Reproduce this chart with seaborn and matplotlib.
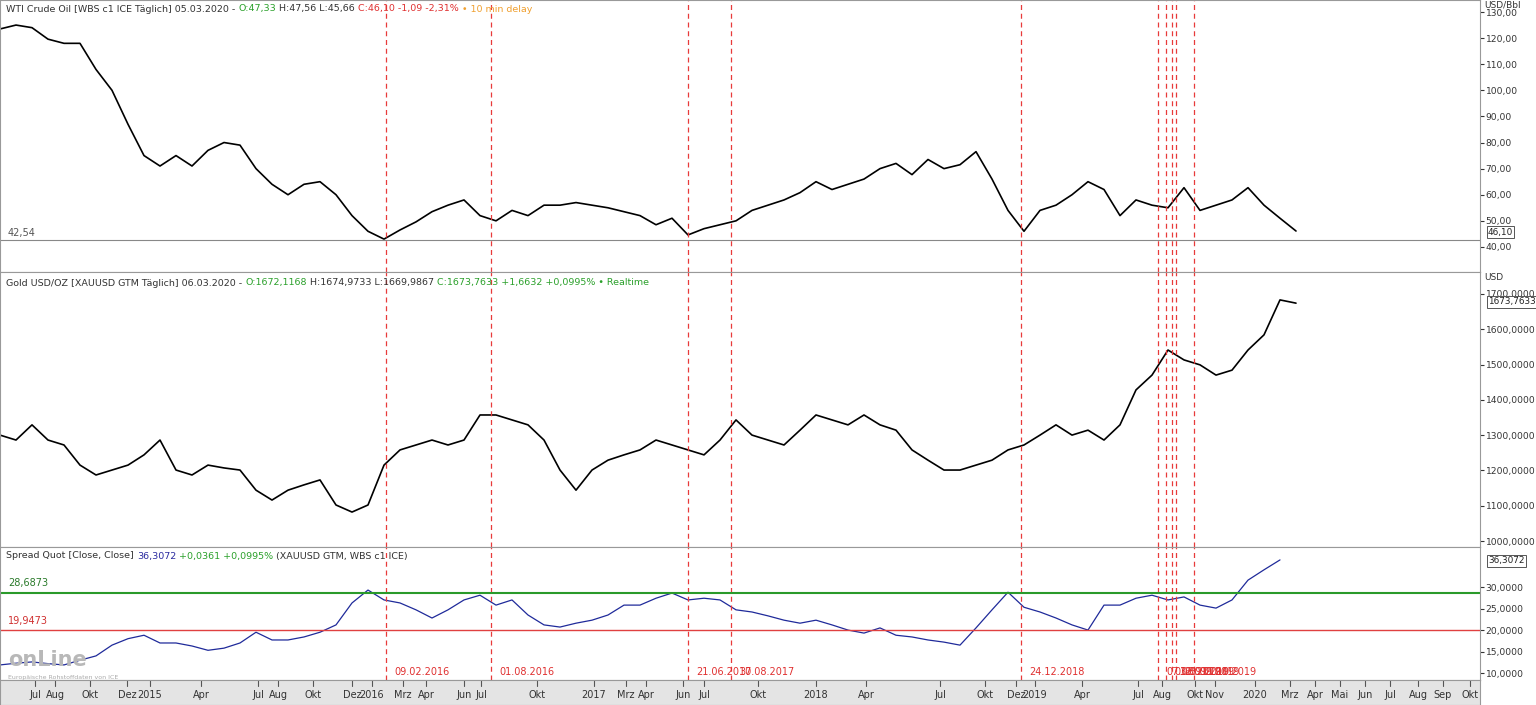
import matplotlib
matplotlib.use("Agg")
import matplotlib.pyplot as plt
import seaborn as sns
import numpy as np
import pandas as pd

sns.set_style("white")
plt.rcParams['font.family'] = ['DejaVu Sans']

oil = [123.5,125,124,119.6,118,118,108,100,87,75,71,75,71,77,80,79,70,64,60,64,65,60,52,46,43,46.5,
       49.6,53.5,56,58,52,50,54,52,56,56,57,56,55,53.5,52,48.5,51,44.6,47,48.5,50,54,56,58,60.8,65,62,
       64,66,70,72,67.7,73.5,70,71.5,76.5,66,54,46,54,56,60,65,62,52,58,56,55,62.7,54,56,58,62.7,56,51,46.1]
gold = [1300,1286,1329,1286,1272,1215,1187,1201,1215,1244,1286,1201,1187,1215,1207,1201,1144,1116,1144,
        1159,1173,1102,1082,1102,1215,1258,1272,1286,1272,1286,1357,1357,1343,1329,1286,1201,1144,1201,
        1229,1244,1258,1286,1272,1258,1244,1286,1343,1300,1286,1272,1314,1357,1343,1329,1357,1329,1314,
        1258,1229,1201,1201,1215,1229,1258,1272,1300,1329,1300,1314,1286,1329,1428,1470,1541,1513,1499,
        1470,1484,1541,1584,1683,1673.8]
spread = [11.9,12.3,12.6,12.2,11.9,13,14,16.5,18,18.8,17,17,16.3,15.3,15.8,17,19.5,17.7,17.7,18.4,19.5,
          21.2,26.3,29.3,27,26.3,24.7,22.8,24.7,27,28.1,25.8,27,23.5,21.2,20.7,21.6,22.3,23.5,25.8,25.8,
          27.4,28.6,27,27.4,27,24.7,24.2,23.3,22.3,21.6,22.3,21.2,20,19.3,20.5,18.8,18.4,17.7,17.2,16.5,
          20.5,24.7,28.8,25.3,24.2,22.8,21.2,20,25.8,25.8,27.4,28.1,27,27.7,25.8,25.1,27,31.6,34,36.3]
t_oil = list(range(len(oil)))
t_gold = list(range(len(gold)))
t_spread = list(range(len(spread)))

xtick_pos = [35,55,90,127,150,201,258,278,313,352,372,403,426,464,481,537,594,626,646,683,704,758,816,
             866,940,985,1016,1035,1082,1138,1162,1195,1215,1255,1290,1315,1340,1365,1390,1418,1443,1470]
xtick_lab = ["Jul","Aug","Okt","Dez","2015","Apr","Jul","Aug","Okt","Dez","2016","Mrz","Apr","Jun","Jul",
             "Okt","2017","Mrz","Apr","Jun","Jul","Okt","2018","Apr","Jul","Okt","Dez","2019","Apr","Jul",
             "Aug","Okt","Nov","2020","Mrz","Apr","Mai","Jun","Jul","Aug","Sep","Okt"]
vline_pos = [386,491,688,731,1021,1158,1166,1172,1176,1194]
vline_lab = ["09.02.2016","01.08.2016","21.06.2017","30.08.2017","24.12.2018",
             "07.08.2019","03.09.2019","16.09.2019","25.09.2019","11.10.2019"]
STEP = 16.0
XMAX = 1480/STEP

W, H = 1536, 705
fig = plt.figure(figsize=(W/100, H/100), dpi=100)
fig.patch.set_facecolor("white")

def mk(top, bot):
    return fig.add_axes([0, 1-bot/H, 1480/W, (bot-top)/H])

ax1 = mk(0, 272); ax2 = mk(272, 547); ax3 = mk(547, 680)
axx = fig.add_axes([0, 0, 1480/W, 25/H]); axx.set_facecolor("#e4e4e4")

sns.lineplot(x=t_oil, y=oil, ax=ax1, color="black", lw=1.2)
sns.lineplot(x=t_gold, y=gold, ax=ax2, color="black", lw=1.2)
sns.lineplot(x=t_spread, y=spread, ax=ax3, color="#1f2a9a", lw=0.9)

ax1.set_ylim(30.4, 134.6); ax3.set_ylim(8.4, 39.3)
ax2.set_ylim(1000 - 6/0.353, 1000 + 269/0.353)
for ax in (ax1, ax2, ax3, axx):
    ax.set_xlim(0, XMAX)
    ax.set_xticks([])
    ax.yaxis.tick_right()
    ax.tick_params(axis='y', labelsize=6.6, colors="#333333", length=3, pad=1, direction='out')
    for s in ax.spines.values():
        s.set_color("#999999")
for ax in (ax1, ax2, ax3):
    for p in vline_pos:
        ax.axvline(p/STEP, color="#e83a3a", ls=(0, (4, 3)), lw=0.9)

ax1.set_yticks(range(40, 131, 10))
ax1.set_yticklabels([f"{v},00" for v in range(40, 131, 10)])
ax2.set_yticks(range(1000, 1701, 100))
ax2.set_yticklabels([f"{v},0000" for v in range(1000, 1701, 100)])
ax3.set_yticks(range(10, 31, 5))
ax3.set_yticklabels([f"{v},0000" for v in range(10, 31, 5)])
axx.set_yticks([])

ax1.axhline(42.54, color="#888888", lw=0.8)
ax1.text(0.5, 44, "42,54", fontsize=7, color="#555555")
ax3.axhline(28.6873, color="#2a9a2a", lw=1.5)
ax3.axhline(19.9473, color="#e04040", lw=1)
ax3.text(0.5, 30.2, "28,6873", fontsize=7, color="#2a7a2a")
ax3.text(0.5, 21.5, "19,9473", fontsize=7, color="#d03030")
for p, lab in zip(vline_pos, vline_lab):
    ax3.text(p/STEP + 0.5, 9.5, lab, fontsize=7, color="#e03030")

def hdr(parts, y):
    x = 6
    for s, c in parts:
        t = fig.text(x/W, 1-y/H, s, fontsize=6.8, color=c, va='center')
        fig.canvas.draw()
        x += t.get_window_extent().width + 3
hdr([("WTI Crude Oil [WBS c1 ICE Täglich] 05.03.2020 -", "#333333"), ("O:47,33", "#2aa02a"),
     ("H:47,56 L:45,66", "#333333"), ("C:46,10 -1,09 -2,31%", "#e03030"), ("• 10 min delay", "#f0a030")], 9)
hdr([("Gold USD/OZ [XAUUSD GTM Täglich] 06.03.2020 -", "#333333"), ("O:1672,1168", "#2aa02a"),
     ("H:1674,9733 L:1669,9867", "#333333"), ("C:1673,7633 +1,6632 +0,0995% • Realtime", "#2aa02a")], 283)
hdr([("Spread Quot [Close, Close]", "#333333"), ("36,3072", "#2a2aa0"), ("+0,0361 +0,0995%", "#2aa02a"),
     ("(XAUUSD GTM, WBS c1 ICE)", "#333333")], 556)

fig.text(1484/W, 1-5/H, "USD/Bbl", fontsize=6.5, color="#333333", va='center')
fig.text(1484/W, 1-278/H, "USD", fontsize=6.5, color="#333333", va='center')
for y, s in [(232, "46,10"), (302, "1673,7633"), (561, "36,3072")]:
    fig.text(1488/W, 1-y/H, s, fontsize=6.4, color="#222222", va='center',
             bbox=dict(boxstyle="square,pad=0.12", fc="white", ec="#555555", lw=0.7))

for p, lab in zip(xtick_pos, xtick_lab):
    axx.axvline(p/STEP, ymin=0.75, ymax=1, color="#555555", lw=0.8)
    axx.text(p/STEP, 0.38, lab, fontsize=7, color="#333333", ha='center', va='center',
             transform=axx.get_xaxis_transform())

fig.text(8/W, 1-660/H, "onLine", fontsize=15, color="#b8b8b8", fontweight='bold', va='center')
fig.text(8/W, 1-677/H, "Europäische Rohstoffdaten von ICE", fontsize=4.5, color="#aaaaaa", va='center')

fig.savefig("out.png", dpi=100)
